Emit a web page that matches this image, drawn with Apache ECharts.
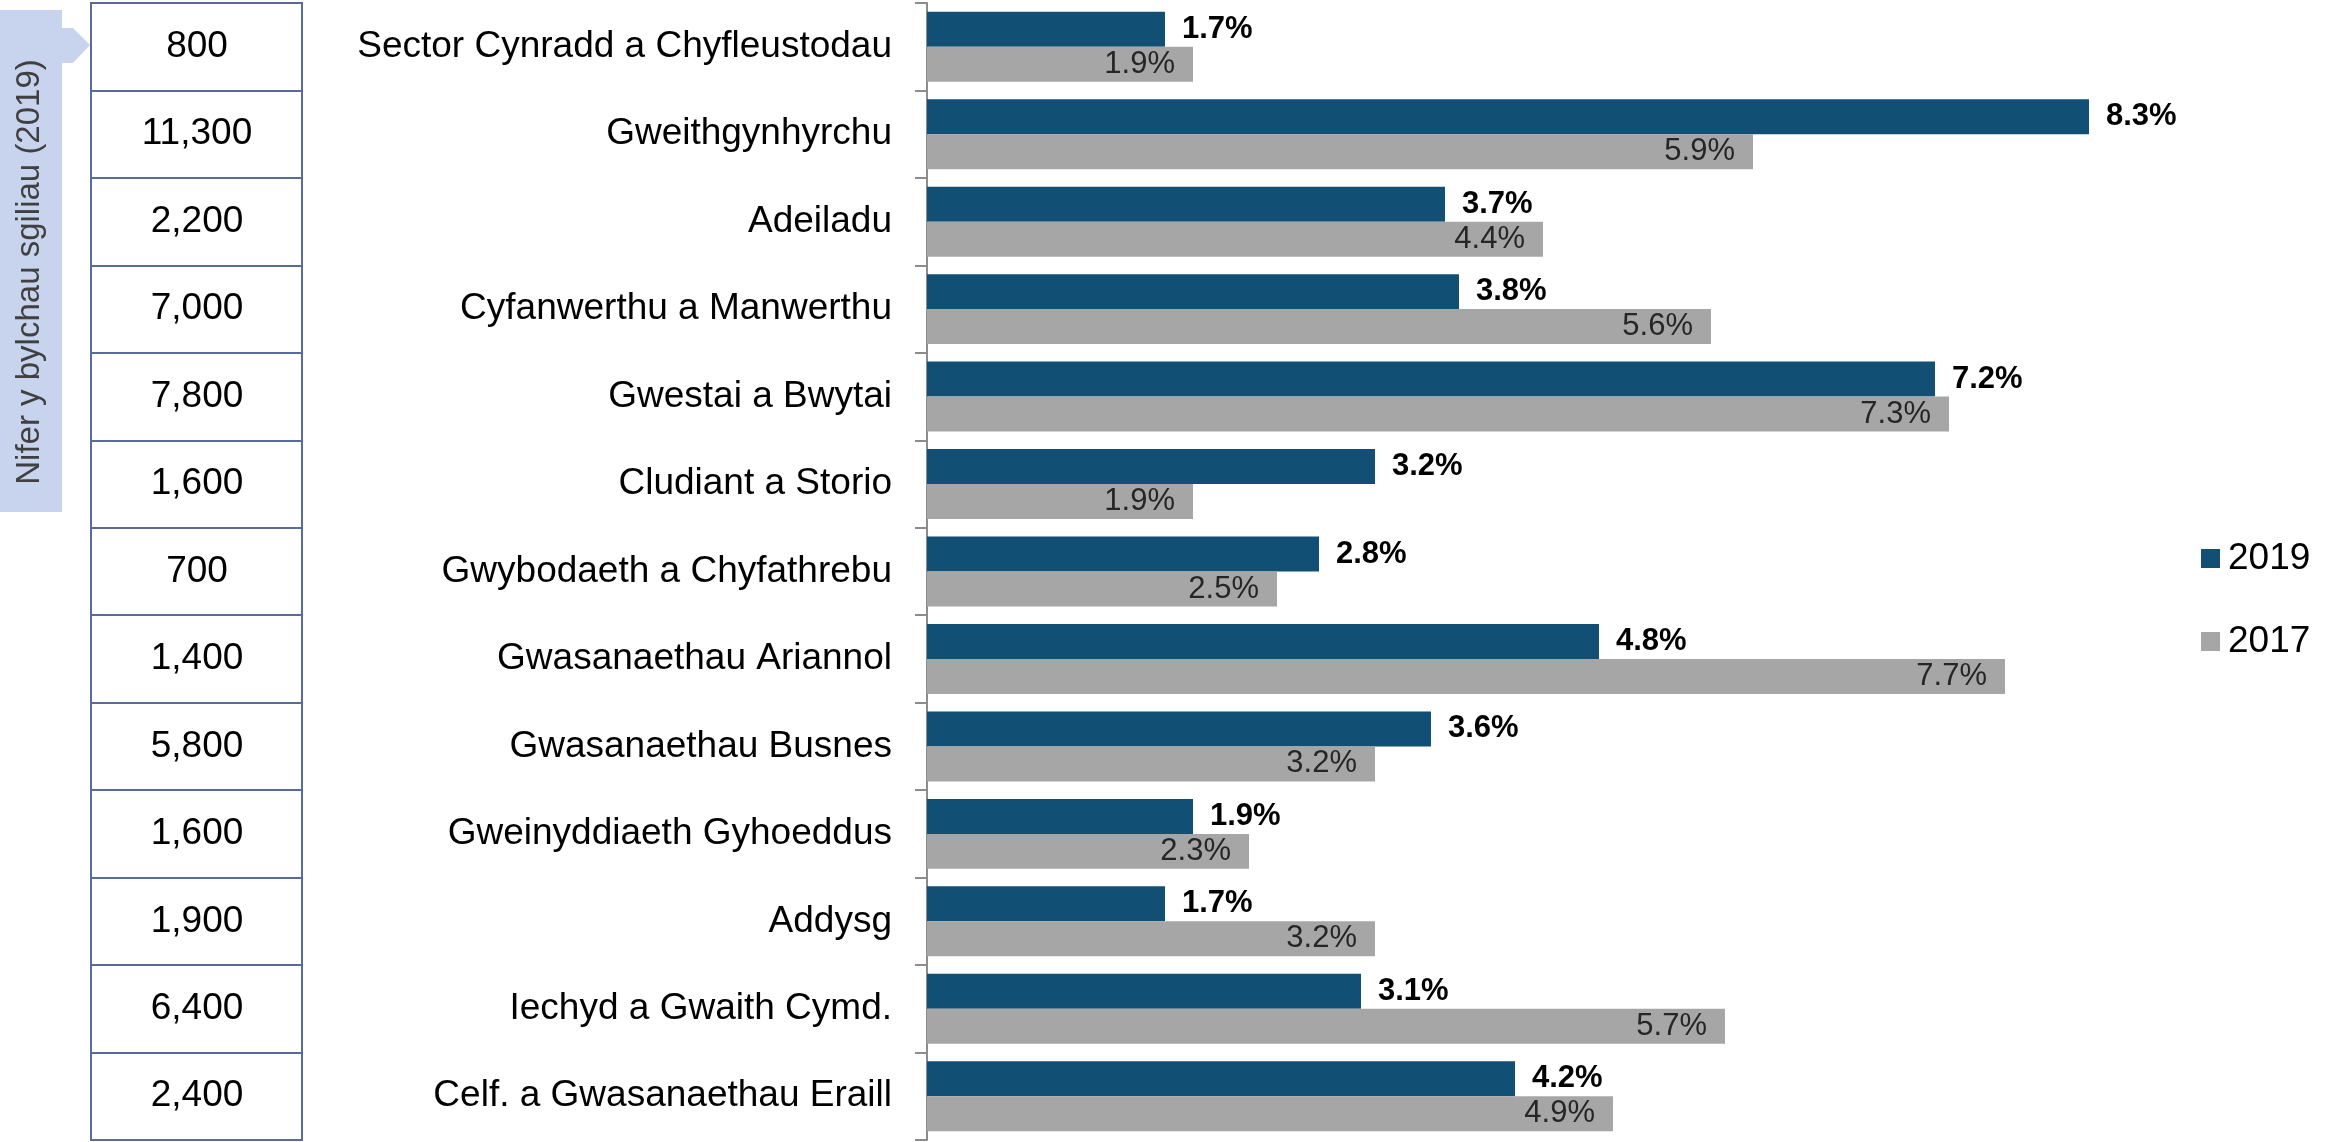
<!DOCTYPE html>
<html>
<head>
<meta charset="utf-8">
<script src="https://cdn.jsdelivr.net/npm/echarts@6/dist/echarts.min.js"></script>
<style>
html,body{margin:0;padding:0;background:#fff;}
#chart{width:2330px;height:1142px;}
</style>
</head>
<body>
<div id="chart"></div>
<script>
const categories = [
  'Sector Cynradd a Chyfleustodau',
  'Gweithgynhyrchu',
  'Adeiladu',
  'Cyfanwerthu a Manwerthu',
  'Gwestai a Bwytai',
  'Cludiant a Storio',
  'Gwybodaeth a Chyfathrebu',
  'Gwasanaethau Ariannol',
  'Gwasanaethau Busnes',
  'Gweinyddiaeth Gyhoeddus',
  'Addysg',
  'Iechyd a Gwaith Cymd.',
  'Celf. a Gwasanaethau Eraill'
];
const values2019 = [1.7, 8.3, 3.7, 3.8, 7.2, 3.2, 2.8, 4.8, 3.6, 1.9, 1.7, 3.1, 4.2];
const values2017 = [1.9, 5.9, 4.4, 5.6, 7.3, 1.9, 2.5, 7.7, 3.2, 2.3, 3.2, 5.7, 4.9];
const skillGaps2019 = ['800', '11,300', '2,200', '7,000', '7,800', '1,600', '700', '1,400', '5,800', '1,600', '1,900', '6,400', '2,400'];
const seriesNames = ['2019', '2017'];
const tableTitle = 'Nifer y bylchau sgiliau (2019)';

const FONT = "'Liberation Sans', Arial, sans-serif";
const chart = echarts.init(document.getElementById('chart'), null, {renderer: 'canvas'});

const option = {
  backgroundColor: '#ffffff',
  animation: false,
  textStyle: {fontFamily: FONT},
  legend: {
    orient: 'vertical',
    left: 2196,
    top: 535,
    itemWidth: 19,
    itemHeight: 19,
    itemGap: 46,
    icon: 'rect',
    data: seriesNames,
    textStyle: {fontSize: 37, color: '#000', fontFamily: FONT, padding: [0, 0, 0, 3]}
  },
  grid: [
    {left: 927, top: 3, width: 1400, height: 1137, containLabel: false},
    {left: 91, top: 3, width: 211, height: 1137, show: true, borderColor: '#5A6A9A', borderWidth: 2, containLabel: false}
  ],
  xAxis: [
    {type: 'value', gridIndex: 0, min: 0, max: 10, show: false},
    {type: 'value', gridIndex: 1, min: 0, max: 1, show: false}
  ],
  yAxis: [
    {
      type: 'category', gridIndex: 0, data: categories, inverse: true,
      axisLine: {show: true, lineStyle: {color: '#8C8C8C', width: 2}},
      axisTick: {show: true, length: 12, lineStyle: {color: '#8C8C8C', width: 2}},
      axisLabel: {fontSize: 37, color: '#000', margin: 35, fontFamily: FONT},
      splitLine: {show: false}
    },
    {
      type: 'category', gridIndex: 1, data: skillGaps2019, inverse: true,
      axisLine: {show: false},
      axisTick: {show: false},
      axisLabel: {inside: true, align: 'center', margin: 106, fontSize: 37, color: '#000', fontFamily: FONT},
      splitLine: {show: true, lineStyle: {color: '#5A6A9A', width: 2}}
    }
  ],
  graphic: [
    {
      type: 'polygon',
      shape: {points: [[0, 10], [62, 10], [62, 28], [73, 28], [90, 45], [73, 63], [62, 63], [62, 512], [0, 512]]},
      style: {fill: '#C8D4EE'},
      z: 0
    },
    {
      type: 'text',
      x: 30, y: 272,
      rotation: Math.PI / 2,
      style: {text: tableTitle, fontSize: 33, fill: '#404040', fontFamily: FONT, align: 'center', verticalAlign: 'middle'},
      z: 1
    }
  ],
  series: [
    {
      name: seriesNames[0], type: 'bar', xAxisIndex: 0, yAxisIndex: 0,
      data: values2019, barGap: '0%', barCategoryGap: '20%',
      itemStyle: {color: '#124F74'},
      label: {show: true, position: 'right', distance: 17, fontSize: 31, fontWeight: 'bold', color: '#000', fontFamily: FONT,
        formatter: p => p.value.toFixed(1) + '%'}
    },
    {
      name: seriesNames[1], type: 'bar', xAxisIndex: 0, yAxisIndex: 0,
      data: values2017, barGap: '0%', barCategoryGap: '20%',
      itemStyle: {color: '#A6A6A6'},
      label: {show: true, position: 'insideRight', distance: 18, fontSize: 31, color: '#262626', fontFamily: FONT,
        formatter: p => p.value.toFixed(1) + '%'}
    }
  ]
};
chart.setOption(option);
</script>
</body>
</html>
